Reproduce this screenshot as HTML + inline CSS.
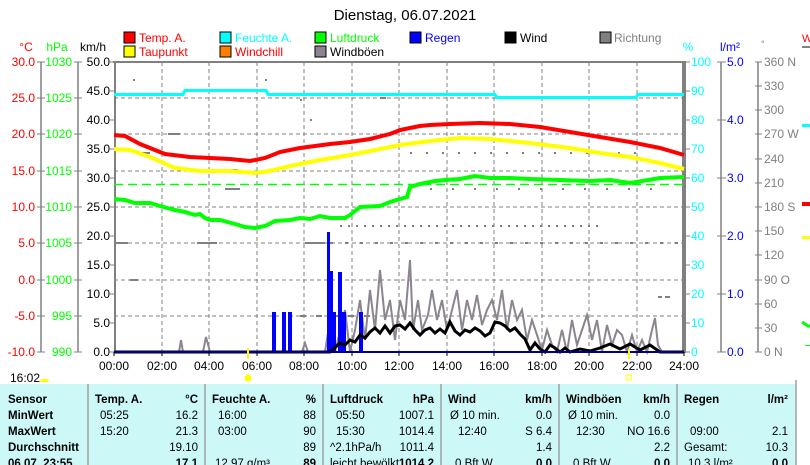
<!DOCTYPE html>
<html><head><meta charset="utf-8"><style>
html,body{margin:0;padding:0;background:#fff;width:810px;height:465px;overflow:hidden}
svg{display:block;font-family:"Liberation Sans",sans-serif}
</style></head><body>
<svg width="810" height="465" viewBox="0 0 810 465" xmlns="http://www.w3.org/2000/svg">
<text x="405" y="20" font-size="15" text-anchor="middle">Dienstag, 06.07.2021</text>
<!-- legend -->
<g font-size="12">
<rect x="124" y="32" width="11" height="11" fill="#f00" stroke="#000"/><text x="139" y="42" fill="#f00">Temp. A.</text>
<rect x="124" y="46" width="11" height="11" fill="#ff0" stroke="#000"/><text x="139" y="56" fill="#f00">Taupunkt</text>
<rect x="220" y="32" width="11" height="11" fill="#0ff" stroke="#000"/><text x="235" y="42" fill="#0ff">Feuchte A.</text>
<rect x="220" y="46" width="11" height="11" fill="#ff8000" stroke="#000"/><text x="235" y="56" fill="#f00">Windchill</text>
<rect x="315" y="32" width="11" height="11" fill="#0f0" stroke="#000"/><text x="330" y="42" fill="#0f0">Luftdruck</text>
<rect x="315" y="46" width="11" height="11" fill="#8c8490" stroke="#000"/><text x="330" y="56">Windböen</text>
<rect x="410" y="32" width="11" height="11" fill="#00f" stroke="#000"/><text x="425" y="42" fill="#00f">Regen</text>
<rect x="505" y="32" width="11" height="11" fill="#000" stroke="#000"/><text x="520" y="42">Wind</text>
<rect x="600" y="32" width="11" height="11" fill="#808080" stroke="#000"/><text x="614" y="42" fill="#808080">Richtung</text>
</g>
<!-- axis titles -->
<g font-size="12">
<text x="26" y="51" fill="#f00" text-anchor="middle">°C</text>
<text x="57" y="51" fill="#0f0" text-anchor="middle">hPa</text>
<text x="93" y="51" text-anchor="middle">km/h</text>
<text x="688" y="51" fill="#0ff" text-anchor="middle">%</text>
<text x="730" y="51" fill="#00f" text-anchor="middle">l/m²</text>
<text x="761" y="47" fill="#808080" font-size="9">°</text>
</g>
<!-- grid -->
<g stroke="#808080" stroke-dasharray="4,3" stroke-width="1">
<line x1="114" y1="98" x2="684" y2="98"/><line x1="114" y1="134" x2="684" y2="134"/>
<line x1="114" y1="171" x2="684" y2="171"/><line x1="114" y1="207" x2="684" y2="207"/>
<line x1="114" y1="243" x2="684" y2="243"/><line x1="114" y1="280" x2="684" y2="280"/>
<line x1="114" y1="316" x2="684" y2="316"/>
<line x1="162" y1="62" x2="162" y2="352"/><line x1="209" y1="62" x2="209" y2="352"/>
<line x1="257" y1="62" x2="257" y2="352"/><line x1="304" y1="62" x2="304" y2="352"/>
<line x1="352" y1="62" x2="352" y2="352"/><line x1="399" y1="62" x2="399" y2="352"/>
<line x1="447" y1="62" x2="447" y2="352"/><line x1="494" y1="62" x2="494" y2="352"/>
<line x1="542" y1="62" x2="542" y2="352"/><line x1="589" y1="62" x2="589" y2="352"/>
<line x1="637" y1="62" x2="637" y2="352"/>
</g>
<!-- direction scatter -->
<g stroke="#808080" stroke-width="2">
<line x1="133" y1="80" x2="135" y2="80"/><line x1="265" y1="80" x2="267" y2="80"/>
<line x1="168" y1="134" x2="180" y2="134"/><line x1="140" y1="153" x2="150" y2="153"/>
<line x1="230" y1="170" x2="238" y2="170"/><line x1="225" y1="189" x2="240" y2="189"/>
<line x1="116" y1="243" x2="128" y2="243"/><line x1="197" y1="243" x2="217" y2="243"/>
<line x1="305" y1="243" x2="325" y2="243"/><line x1="310" y1="120" x2="312" y2="120"/>
<line x1="130" y1="280" x2="138" y2="280"/><line x1="340" y1="226" x2="600" y2="226" stroke-dasharray="2,6"/>
<line x1="330" y1="243" x2="680" y2="243" stroke-dasharray="3,12"/>
<line x1="410" y1="153" x2="640" y2="153" stroke-dasharray="2,14"/>
<line x1="430" y1="189" x2="660" y2="189" stroke-dasharray="2,20"/>
<line x1="300" y1="316" x2="380" y2="316" stroke-dasharray="6,10"/>
<line x1="300" y1="100" x2="302" y2="100"/><line x1="380" y1="98" x2="386" y2="98"/>
<line x1="658" y1="297" x2="662" y2="297"/><line x1="665" y1="297" x2="670" y2="297"/>
</g>
<!-- plot border -->
<line x1="113" y1="62" x2="686" y2="62" stroke="#808080" stroke-width="2"/>
<line x1="115" y1="62" x2="115" y2="353" stroke="#808080" stroke-width="2"/>
<line x1="684" y1="61" x2="684" y2="353" stroke="#808080" stroke-width="4"/>
<!-- dashed pressure reference -->
<line x1="114" y1="184.5" x2="684" y2="184.5" stroke="#0f0" stroke-width="1.5" stroke-dasharray="9,5"/>
<!-- humidity -->
<polyline fill="none" stroke="#0ff" stroke-width="3" points="114,94.5 183,94.5 185,90.5 266,90.5 268,94.5 495,94.5 497,97.5 636,97.5 638,94.5 684,94.5"/>
<!-- temp -->
<polyline fill="none" stroke="#f00" stroke-width="4" points="114,135 125,136 140,144 165,154 190,157 210,158 230,159 250,161 265,158 280,152 300,148 330,144 350,142 370,139 390,134 400,130 410,128 420,126 430,125 450,124 480,123 510,124 540,127 570,132 600,137 630,142 660,148 684,155"/>
<!-- dew point -->
<polyline fill="none" stroke="#ff0" stroke-width="4" points="114,149 130,150 150,157 175,168 200,171 230,171 255,173 270,171 290,166 320,160 350,155 380,149 400,145 430,141 460,138 490,139 530,143 570,148 600,153 630,157 660,163 684,169"/>
<!-- pressure -->
<polyline fill="none" stroke="#0f0" stroke-width="4" points="114,199 125,200 135,203 150,203 160,206 175,210 185,212 195,215 200,214 205,218 210,220 220,220 235,224 245,227 255,228 265,226 275,221 290,220 300,218 310,219 320,216 330,218 345,218 350,215 360,207 380,206 390,202 400,199 407,197 410,187 420,184 435,181 445,180 460,179 475,176 490,178 510,178 530,179 560,180 590,181 610,180 630,183 660,178 684,177"/>
<!-- gusts -->
<polyline fill="none" stroke="#8c8490" stroke-width="2" points="114,352 179,352 181,340 183,352 203,352 206,337 210,352 302,352 305,343 308,352 325,352 330,320 335,352 345,310 350,352 355,330 360,300 365,340 370,290 375,330 380,270 385,320 390,300 395,340 400,300 405,320 410,260 413,330 418,300 422,330 428,315 432,290 437,320 442,300 447,330 452,310 457,290 462,330 467,300 472,320 477,295 482,325 487,310 492,300 497,320 502,290 507,330 512,300 517,320 522,310 527,340 532,320 537,335 542,350 547,330 552,345 557,352 562,330 567,352 572,320 577,345 582,330 587,315 592,340 597,320 602,352 607,325 612,345 617,330 622,335 627,352 632,335 637,352 642,340 647,352 652,330 655,318 658,345 662,352 684,352"/>
<!-- rain -->
<g fill="#00f">
<rect x="272" y="312" width="4" height="40"/><rect x="282" y="312" width="4" height="40"/><rect x="288" y="312" width="4" height="40"/>
<rect x="327" y="232" width="3" height="120"/><rect x="330" y="271" width="3" height="81"/><rect x="333" y="312" width="3" height="40"/>
<rect x="338" y="272" width="4" height="80"/><rect x="342" y="312" width="4" height="40"/><rect x="359" y="312" width="4" height="40"/>
</g>
<!-- wind -->
<polyline fill="none" stroke="#000" stroke-width="3" points="114,352 330,352 340,343 345,345 350,340 355,342 360,335 365,338 370,332 375,328 380,333 385,326 390,333 395,326 400,325 405,329 410,323 415,330 420,335 425,330 430,328 435,333 440,329 445,333 450,322 455,331 460,335 465,330 470,332 475,328 480,331 485,336 490,333 495,322 500,323 505,326 510,331 515,328 520,334 525,339 530,350 535,343 540,349 545,352 550,345 555,348 560,352 565,348 570,352 580,349 590,351 600,348 610,344 620,349 630,344 640,350 650,345 660,352 684,352"/>
<line x1="114" y1="352" x2="684" y2="352" stroke="#00008b" stroke-width="2"/>
<!-- left axes -->
<g stroke="#808080" stroke-width="1.5">
<line x1="41" y1="62" x2="41" y2="352"/><line x1="78" y1="62" x2="78" y2="352"/>
</g>
<g stroke="#808080" stroke-width="1">
<path d="M37 62h8M37 98h8M37 134h8M37 171h8M37 207h8M37 243h8M37 280h8M37 316h8M37 352h8"/>
<path d="M74 62h8M74 98h8M74 134h8M74 171h8M74 207h8M74 243h8M74 280h8M74 316h8M74 352h8"/>
<path d="M110 62h4M110 91h4M110 120h4M110 149h4M110 178h4M110 207h4M110 236h4M110 265h4M110 294h4M110 323h4M110 352h4"/>
<path d="M684 62h6M684 91h6M684 120h6M684 149h6M684 178h6M684 207h6M684 236h6M684 265h6M684 294h6M684 323h6M684 352h6"/>
</g>
<g font-size="12" text-anchor="end">
<g fill="#f00"><text x="35" y="66">30.0</text><text x="35" y="102">25.0</text><text x="35" y="138">20.0</text><text x="35" y="175">15.0</text><text x="35" y="211">10.0</text><text x="35" y="247">5.0</text><text x="35" y="284">0.0</text><text x="35" y="320">-5.0</text><text x="35" y="356">-10.0</text></g>
<g fill="#0f0"><text x="72" y="66">1030</text><text x="72" y="102">1025</text><text x="72" y="138">1020</text><text x="72" y="175">1015</text><text x="72" y="211">1010</text><text x="72" y="247">1005</text><text x="72" y="284">1000</text><text x="72" y="320">995</text><text x="72" y="356">990</text></g>
<g fill="#000"><text x="110" y="66">50.0</text><text x="110" y="95">45.0</text><text x="110" y="124">40.0</text><text x="110" y="153">35.0</text><text x="110" y="182">30.0</text><text x="110" y="211">25.0</text><text x="110" y="240">20.0</text><text x="110" y="269">15.0</text><text x="110" y="298">10.0</text><text x="110" y="327">5.0</text><text x="110" y="356">0.0</text></g>
</g>
<!-- right axes -->
<g font-size="12" fill="#0ff">
<text x="691" y="66">100</text><text x="691" y="95">90</text><text x="691" y="124">80</text><text x="691" y="153">70</text><text x="691" y="182">60</text><text x="691" y="211">50</text><text x="691" y="240">40</text><text x="691" y="269">30</text><text x="691" y="298">20</text><text x="691" y="327">10</text><text x="691" y="356">0</text>
</g>
<line x1="721" y1="62" x2="721" y2="352" stroke="#808080" stroke-width="1.5"/>
<path d="M717 62h9M717 120h9M717 178h9M717 236h9M717 294h9M717 352h9" stroke="#808080"/>
<g font-size="12" fill="#00f"><text x="727" y="66">5.0</text><text x="727" y="124">4.0</text><text x="727" y="182">3.0</text><text x="727" y="240">2.0</text><text x="727" y="298">1.0</text><text x="727" y="356">0.0</text></g>
<line x1="758" y1="62" x2="758" y2="352" stroke="#808080" stroke-width="1.5"/>
<path d="M755 62h7M755 86h7M755 110h7M755 134h7M755 159h7M755 183h7M755 207h7M755 231h7M755 255h7M755 280h7M755 304h7M755 328h7M755 352h7" stroke="#808080"/>
<g font-size="12" fill="#808080"><text x="764" y="66">360 N</text><text x="764" y="90">330</text><text x="764" y="114">300</text><text x="764" y="138">270 W</text><text x="764" y="163">240</text><text x="764" y="187">210</text><text x="764" y="211">180 S</text><text x="764" y="235">150</text><text x="764" y="259">120</text><text x="764" y="284">90  O</text><text x="764" y="308">60</text><text x="764" y="332">30</text><text x="764" y="356">0   N</text></g>
<!-- right edge snippets -->
<rect x="802" y="46" width="8" height="2" fill="#808080"/><text x="802" y="42" font-size="11" fill="#f00">W</text>
<rect x="802" y="124" width="8" height="3" fill="#0ff"/><rect x="802" y="202" width="8" height="4" fill="#f00"/>
<rect x="802" y="236" width="8" height="3" fill="#ff0"/><path d="M802 322l6 4h2" stroke="#0f0" stroke-width="3" fill="none"/>
<rect x="805" y="345" width="5" height="1" fill="#0f0"/>
<!-- x axis -->
<path d="M114 352v4M162 352v4M209 352v4M257 352v4M304 352v4M352 352v4M399 352v4M447 352v4M494 352v4M542 352v4M589 352v4M637 352v4M684 352v4" stroke="#000"/>
<g font-size="12" text-anchor="middle">
<text x="114" y="370">00:00</text><text x="162" y="370">02:00</text><text x="209" y="370">04:00</text><text x="257" y="370">06:00</text><text x="304" y="370">08:00</text><text x="352" y="370">10:00</text><text x="399" y="370">12:00</text><text x="447" y="370">14:00</text><text x="494" y="370">16:00</text><text x="542" y="370">18:00</text><text x="589" y="370">20:00</text><text x="637" y="370">22:00</text><text x="684" y="370">24:00</text>
</g>
<line x1="248" y1="348" x2="248" y2="359" stroke="#ff0" stroke-width="2"/>
<line x1="629" y1="349" x2="629" y2="359" stroke="#ff0" stroke-width="2"/>
<circle cx="248" cy="378" r="3.5" fill="#ff0"/>
<rect x="626" y="375" width="5" height="5" fill="none" stroke="#ff0"/>
<text x="10" y="382" font-size="12">16:02</text>
<path d="M40 382a4 3 0 0 1 9 0z" fill="#ff0"/>
<!-- table -->
<rect x="0" y="384" width="796" height="81" fill="#ccf8f8"/>
<g stroke="#a0a0a0" stroke-width="1.5"><line x1="88" y1="384" x2="88" y2="465"/><line x1="205" y1="384" x2="205" y2="465"/><line x1="323" y1="384" x2="323" y2="465"/><line x1="441" y1="384" x2="441" y2="465"/><line x1="559" y1="384" x2="559" y2="465"/><line x1="677" y1="384" x2="677" y2="465"/><line x1="796" y1="380" x2="796" y2="465"/></g>
<g font-size="11.5" font-weight="bold">
<text x="8" y="403">Sensor</text><text x="8" y="419">MinWert</text><text x="8" y="435">MaxWert</text><text x="8" y="451">Durchschnitt</text><text x="8" y="467">06.07. 23:55</text>
<text x="95" y="403">Temp. A.</text><text x="198" y="403" text-anchor="end">°C</text>
<text x="212" y="403">Feuchte A.</text><text x="316" y="403" text-anchor="end">%</text>
<text x="330" y="403">Luftdruck</text><text x="434" y="403" text-anchor="end">hPa</text>
<text x="448" y="403">Wind</text><text x="552" y="403" text-anchor="end">km/h</text>
<text x="566" y="403">Windböen</text><text x="670" y="403" text-anchor="end">km/h</text>
<text x="684" y="403">Regen</text><text x="788" y="403" text-anchor="end">l/m²</text>
<text x="198" y="467" text-anchor="end">17.1</text><text x="316" y="467" text-anchor="end">89</text><text x="434" y="467" text-anchor="end">1014.2</text><text x="552" y="467" text-anchor="end">0.0</text><text x="670" y="467" text-anchor="end">0.0</text><text x="788" y="467" text-anchor="end">0.0</text>
</g>
<g font-size="11.5">
<text x="100" y="419">05:25</text><text x="198" y="419" text-anchor="end">16.2</text>
<text x="100" y="435">15:20</text><text x="198" y="435" text-anchor="end">21.3</text>
<text x="198" y="451" text-anchor="end">19.10</text>
<text x="218" y="419">16:00</text><text x="316" y="419" text-anchor="end">88</text>
<text x="218" y="435">03:00</text><text x="316" y="435" text-anchor="end">90</text>
<text x="316" y="451" text-anchor="end">89</text><text x="215" y="467">12.97 g/m³</text>
<text x="336" y="419">05:50</text><text x="434" y="419" text-anchor="end">1007.1</text>
<text x="336" y="435">15:30</text><text x="434" y="435" text-anchor="end">1014.4</text>
<text x="330" y="451">^2.1hPa/h</text><text x="434" y="451" text-anchor="end">1011.4</text>
<text x="330" y="467">leicht bewölkt</text>
<text x="450" y="419">Ø 10 min.</text><text x="552" y="419" text-anchor="end">0.0</text>
<text x="458" y="435">12:40</text><text x="552" y="435" text-anchor="end">S 6.4</text>
<text x="552" y="451" text-anchor="end">1.4</text><text x="455" y="467">0 Bft W</text>
<text x="568" y="419">Ø 10 min.</text><text x="670" y="419" text-anchor="end">0.0</text>
<text x="576" y="435">12:30</text><text x="670" y="435" text-anchor="end">NO 16.6</text>
<text x="670" y="451" text-anchor="end">2.2</text><text x="573" y="467">0 Bft W</text>
<text x="690" y="435">09:00</text><text x="788" y="435" text-anchor="end">2.1</text>
<text x="684" y="451">Gesamt:</text><text x="788" y="451" text-anchor="end">10.3</text>
<text x="688" y="467">10.3 l/m²</text>
</g>
</svg>
</body></html>
